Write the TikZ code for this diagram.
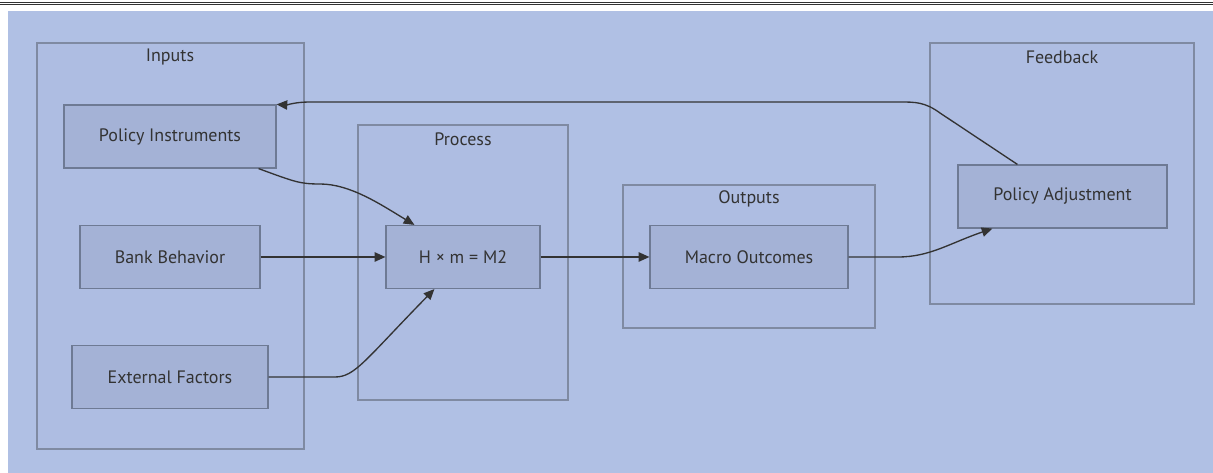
\documentclass[tikz,border=0pt]{standalone}
\usepackage{fontspec}
\setmainfont{PT Sans}
\usetikzlibrary{arrows.meta,calc}
\definecolor{bgblue}{HTML}{B0C0E4}
\definecolor{clfill}{HTML}{AEBDE2}
\definecolor{cldraw}{HTML}{7F8AA2}
\definecolor{ndfill}{HTML}{A4B2D6}
\definecolor{nddraw}{HTML}{6E7A94}
\definecolor{txt}{HTML}{333333}
\tikzset{
  cluster/.style={draw=cldraw, fill=clfill, line width=0.8pt, rectangle, inner sep=0pt},
  cltitle/.style={text=txt, font=\fontsize{13.5}{16}\selectfont, inner sep=0pt},
  box/.style={draw=nddraw, fill=ndfill, line width=0.9pt, rectangle, inner sep=0pt,
     minimum height=47.25pt, text=txt, font=\fontsize{13.5}{16}\selectfont},
  edge/.style={draw=txt, line width=1pt, -{Triangle[length=8pt,width=7pt]}},
}
\begin{document}
\begin{tikzpicture}[x=0.75pt,y=-0.75pt]
\useasboundingbox (0,0) rectangle (1213,473);
\fill[white] (0,0) rectangle (1213,473);
\fill[bgblue] (8,11) rectangle (1213,473);
\draw[line width=0.8pt, black!80] (0,2.8) -- (1213,2.8);
\draw[line width=0.8pt, black!80] (0,4.9) -- (1213,4.9);
% clusters
\node[cluster, minimum width=200.25pt, minimum height=304.5pt] (cin) at (170.5,246) {};
\node[cltitle] (tin) at (170,57) {Inputs};
\node[cluster, minimum width=157.5pt, minimum height=206.25pt] (cpr) at (463,262.5) {};
\node[cltitle] (tpr) at (463,139) {Process};
\node[cluster, minimum width=189pt, minimum height=107.25pt] (cout) at (749,256.5) {};
\node[cltitle] (tout) at (749,199) {Outputs};
\node[cluster, minimum width=198pt, minimum height=195.75pt] (cfb) at (1062,173.5) {};
\node[cltitle] (tfb) at (1062,57) {Feedback};
% nodes
\node[box, minimum width=159pt] (pi) at (170,136.5) {Policy Instruments};
\node[box, minimum width=135pt] (bb) at (170,257) {Bank Behavior};
\node[box, minimum width=147pt] (ef) at (170,377) {External Factors};
\node[box, minimum width=115.5pt] (h) at (463,257) {H × m = M2};
\node[box, minimum width=148.5pt] (mo) at (749,257) {Macro Outcomes};
\node[box, minimum width=156.75pt] (pa) at (1062.5,196.5) {Policy Adjustment};
% edges
\draw[edge] ($(pi.south east)+(-18,0)$) .. controls (295,182) and (300,184) .. (320,184)
   .. controls (350,184) and (380,204) .. ($(h.north west)+(29,0)$);
\draw[edge] (bb.east) -- (h.west);
\draw[edge] (ef.east) -- (335,377) .. controls (355,377) and (365,360) .. ($(h.south west)+(49,0)$);
\draw[edge] (h.east) -- (mo.west);
\draw[edge] (mo.east) -- (898,257) .. controls (930,257) and (950,243) .. ($(pa.south west)+(35,0)$);
\draw[edge] ($(pa.north west)+(60,0)$) -- (940,113) .. controls (925,102) and (915,102) .. (900,102)
   -- (310,102) .. controls (295,102) and (287,105) .. (pi.north east);
\end{tikzpicture}
\end{document}
